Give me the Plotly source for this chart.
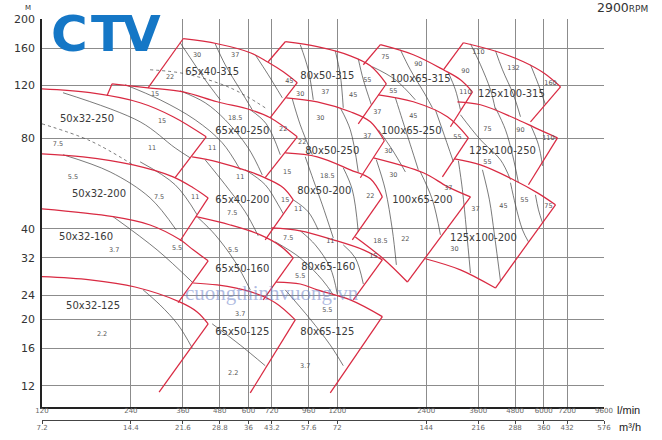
import plotly.graph_objects as go

# ---------------- axes ----------------
Q_TICKS = [120, 240, 360, 480, 600, 720, 960, 1200, 2400, 3600, 4800, 6000, 7200, 9600]
M3H_TICKS = [7.2, 14.4, 21.6, 28.8, 36, 43.2, 57.6, 72, 144, 216, 288, 360, 432, 576]
M3H_TEXT = ["7.2", "14.4", "21.6", "28.8", "36", "43.2", "57.6", "72", "144", "216", "288", "360", "432", "576"]
H_TICKS = [12, 16, 20, 24, 32, 40, 80, 120, 160, 200]

# ---------------- impeller curves (flow l/min, head m) ----------------
CURVE_Q = [
    [120, 174.6, 257.9, 333.6, 431.7],            # 50x32-250
    [120, 165.3, 244.2, 333.6, 390, 438.4],       # 50x32-200
    [120, 208.9, 278.8, 352.4, 390, 438.4],       # 50x32-160
    [120, 174.6, 248, 352.4, 402.3, 438.4],       # 50x32-125
    [360.7, 470.3, 608.7, 694.8, 787.3, 878.1],   # 65x40-315
    [207.3, 274.4, 360.7, 470.3, 608.7, 711.5, 878.1],  # 65x40-250
    [386.9, 470.3, 608.7, 694.8, 787.3, 851.2],   # 65x40-200
    [399.2, 520.7, 658, 769.2, 851.2],            # 65x50-160
    [390, 470.3, 608.7, 739.7, 864.5],            # 65x50-125
    [799.7, 1026, 1328, 1553, 1759],              # 80x50-315
    [806, 1026, 1328, 1553, 1732],                # 80x50-250
    [799.7, 1026, 1328, 1553, 1705],              # 80x50-200
    [717, 899, 1163, 1470, 1705],                 # 80x65-160
    [745.5, 899, 1026, 1328, 1705],               # 80x65-125
    [1679, 2171, 2744, 3134, 3442],               # 100x65-315
    [1653, 2171, 2831, 3335],                     # 100x65-250
    [1590, 2347, 2831, 3389],                     # 100x65-200
    [3208, 4182, 5124, 5989, 6840],               # 125x100-315
    [3061, 3664, 4739, 5715, 6680],               # 125x100-250
    [2991, 3664, 4739, 5715, 6577],               # 125x100-200
    [2384, 3134, 4118],                           # 125x100-200 min
    [1381, 1718, 2072],                           # 100x65-200 min
]
CURVE_H = [
    [117, 113.6, 105.2, 94.5, 81.0],
    [71.1, 69.5, 65.3, 59.6, 54.8, 50.7],
    [46.6, 43.9, 41.2, 36.76, 34.04, 31.3],
    [27.7, 27.04, 25.6, 22.8, 21.15, 19.3],
    [171.9, 165.4, 154.4, 144.1, 133.4, 122.7],
    [121.7, 118.0, 114.4, 106, 99.7, 93.8, 81.0],
    [69.5, 66.9, 61.9, 58.7, 54.8, 49.97],
    [43.9, 41.2, 38.2, 35.1, 32.0],
    [26.4, 26.0, 24.7, 22.7, 19.9],
    [168.0, 161.7, 150.8, 139.7, 121.7],
    [109.3, 106, 98.2, 90.9, 78.6],
    [71.6, 69.5, 62.9, 58.7, 51.1],
    [40.3, 39.4, 36.76, 34.04, 31.53],
    [26.6, 26.2, 25.04, 23.19, 20.4],
    [164.2, 152.0, 135.5, 125.5, 114.4],
    [111.8, 106, 94.5, 80.4],
    [68.95, 61.5, 55.3, 51.1],
    [166.7, 155.6, 144.1, 132.4, 118.9],
    [106, 103.6, 93.8, 86.1, 80.4],
    [68.4, 65.3, 58.3, 52.7, 48.1],
    [31.8, 29.2, 25.4],
    [37.6, 31.8, 26.6],
]

# straight red boundaries (start, end)
EDGE_Q = [
    [431.7, 338.8], [438.4, 352.4], [438.4, 346.8], [438.4, 299],
    [274.4, 360.7], [878.1, 711.5], [199.2, 207.3], [878.1, 684],
    [851.2, 684], [851.2, 673.5], [864.5, 608.7],
    [700.2, 799.7], [1759, 1413], [1732, 1436], [1705, 1349], [1705, 1359], [1705, 1136],
    [1470, 1679], [3442, 2899], [3335, 2723], [3389, 2072],
    [2744, 3208], [6840, 5412], [6680, 5327], [6577, 4118],
]
EDGE_H = [
    [81.0, 59.2], [50.7, 36.5], [31.3, 22.7], [19.3, 11.44],
    [118.0, 171.9], [122.7, 93.8], [111, 121.7], [81.0, 59.2],
    [49.97, 36.76], [32.0, 23.19], [19.9, 11.36],
    [144.1, 168.0], [121.7, 89.5], [78.6, 59.2], [51.1, 36.76], [31.53, 23.19], [20.4, 11.36],
    [140.8, 164.2], [114.4, 87.5], [80.4, 59.6], [51.1, 26.6],
    [135.5, 166.7], [118.9, 90.9], [80.4, 56.1], [48.1, 25.4],
]

# motor power limit lines (flow l/min, head m)
POWER_Q = [
    [264, 301.4, 346.8, 386.9],
    [208.9, 294.4, 390],
    [120, 174.6, 244.2],
    [141.4, 257.9, 338.8, 381],
    [141.4, 204.1, 278.8, 341.5],
    [257.9, 338.8, 402.3],
    [452.4, 563, 684],
    [799.7, 972, 1136, 1257],
    [278.8, 366.4, 520.7, 684],
    [352.4, 381, 428.3, 481.6],
    [463, 500.7, 563, 618.3],
    [632.8, 700.2, 781.3],
    [229.4, 301.4, 396.1, 489.2, 563],
    [352.4, 428.3, 500.7, 599.1, 668.3],
    [608.7, 689.5, 769.2],
    [428.3, 500.7, 585.3, 647.7],
    [585.3, 684, 757.1, 787.3],
    [405.4, 463, 541.3, 608.7],
    [739.7, 899, 1067.5, 1163],
    [899, 1010.5, 1136, 1199.5],
    [1257, 1380.6, 1470],
    [899, 956.6, 995],
    [1181, 1228, 1257],
    [1413, 1470, 1565],
    [844.7, 899, 987.3],
    [1228, 1328, 1413],
    [851.2, 956.6, 1034],
    [934.6, 995, 1067.5, 1163],
    [1257, 1349, 1413],
    [1577, 1887, 2205],
    [1962, 2121, 2384, 2519],
    [2853, 3014, 3134],
    [3389, 3664, 3961, 4118],
    [4118, 4350, 4739, 5006],
    [5412, 5759, 6083],
    [1887, 1993, 2121, 2257],
    [2578, 2723, 2967],
    [1653, 1843, 2040],
    [2293, 2519, 2681],
    [1627, 1745, 1843, 1902],
    [3134, 3664, 4283, 4630],
    [4118, 4453, 4703, 4927],
    [5412, 5759, 5943],
    [3085, 3183, 3284, 3389],
    [3721, 3929, 4086, 4283],
    [4630, 4813, 5085, 5327],
    [5626, 5759, 5943],
]
POWER_H = [
    [25.04, 22.3, 19.15, 16.05],
    [43.9, 34.04, 26.4],
    [89.5, 78.6, 65.3],
    [113.6, 90.9, 74.4, 68.95],
    [70.6, 61.9, 50.7, 39.69],
    [66.87, 56.1, 44.53],
    [19.3, 16.4, 14.0],
    [25.04, 20.0, 16.4, 14.0],
    [135.5, 131.4, 118.0, 101.2],
    [166.7, 148.6, 125.5, 107.6],
    [165.4, 140.8, 116.2, 99.7],
    [152.0, 130.4, 109.3],
    [120.8, 107.6, 92.3, 77.4, 62.9],
    [115.3, 105.2, 92.3, 74.4, 60.5],
    [99.7, 89.5, 70.6],
    [67.9, 56.1, 45.57, 37.9],
    [62.9, 56.1, 48.1, 44.9],
    [43.56, 38.2, 31.05, 25.04],
    [36.2, 32.0, 27.04, 24.1],
    [39.4, 35.37, 29.65, 24.28],
    [35.37, 32.0, 26.2],
    [164.2, 135.5, 107.6],
    [156.8, 130.4, 101.2],
    [147.4, 125.5, 103.6],
    [108.4, 88.8, 70.6],
    [101.2, 85.5, 61.9],
    [49.97, 45.57, 39.69],
    [69.5, 58.3, 48.1, 37.3],
    [63.86, 53.95, 39.09],
    [138.7, 125.5, 107.6],
    [158.0, 135.5, 111.8, 101.2],
    [132.4, 116.2, 99.7],
    [165.4, 140.8, 116.2, 99.7],
    [156.8, 135.5, 111.8, 94.5],
    [140.8, 120.8, 103.6],
    [109.3, 92.3, 76.2, 62.9],
    [99.7, 85.5, 66.9],
    [85.5, 73.3, 61.9],
    [61.9, 49.97, 38.2],
    [67.9, 53.95, 39.69, 30.34],
    [95.95, 79.2, 67.9, 58.3],
    [101.2, 85.5, 70.6, 56.97],
    [88.8, 76.2, 64.85],
    [67.4, 53.95, 39.69, 28.5],
    [62.9, 49.97, 38.2, 26.83],
    [56.97, 48.1, 39.69, 36.2],
    [51.9, 46.27, 41.88],
]
DOTTED_LINES = [2, 8]

MODEL_NAMES = ["50x32-250", "50x32-200", "50x32-160", "50x32-125",
               "65x40-315", "65x40-250", "65x40-200", "65x50-160", "65x50-125",
               "80x50-315", "80x50-250", "80x50-200", "80x65-160", "80x65-125",
               "100x65-315", "100x65-250", "100x65-200",
               "125x100-315", "125x100-250", "125x100-200"]
MODEL_Q = [170.5, 187.2, 169.2, 178.7, 452.4, 571.8, 571.8, 571.8, 571.8,
           1110, 1154, 1084, 1118, 1110, 2293, 2138, 2329, 4666, 4350, 3750]
MODEL_H = [92.3, 51.9, 37.3, 22.0, 132.4, 84.2, 49.6, 29.2, 18.0,
           128.4, 72.2, 53.1, 29.65, 18.0, 125.5, 84.2, 49.6, 111.8, 72.2, 37.0]

KW_TEXT = ["7.5", "15", "15", "11", "11", "18.5", "22", "22", "30", "37", "45",
           "5.5", "7.5", "11", "11", "7.5", "15", "3.7", "5.5", "5.5", "2.2", "3.7", "2.2",
           "7.5", "11", "15", "5.5", "5.5", "3.7", "18.5", "22", "30",
           "30", "37", "45", "55", "30", "37", "37", "22", "30", "30",
           "15", "18.5", "22", "11", "75", "90", "55", "45", "55",
           "110", "132", "90", "160", "110", "75", "90", "110", "55",
           "37", "37", "45", "55", "75"]
KW_Q = [135.9, 289.8, 306.1, 283.2, 452.4, 541.3, 787.3, 325.9, 402.3, 541.3, 825.2,
        152.8, 299, 396.1, 563, 528.9, 799.7, 210.6, 344.1, 533, 191.7, 563, 533,
        818.5, 1136, 1590, 899, 1110, 934.6, 1679, 2040, 2991,
        899, 1093, 1359, 1516, 1051, 1640, 1516, 913, 1787, 1858,
        812.2, 1110, 1553, 884.9, 1745, 2257, 1858, 2171, 3061,
        3606, 4739, 3258, 6326, 3258, 3869, 5006, 6226, 3869,
        2853, 3523, 4384, 5164, 6226]
KW_H = [76.2, 111.8, 90.9, 74.4, 74.4, 93.0, 85.5, 127.4, 150.8, 150.8, 123.6,
        59.2, 51.1, 51.1, 59.2, 44.9, 49.6, 33.8, 34.3, 33.8, 17.86, 20.8, 13.24,
        37.3, 36.2, 32.3, 27.7, 21.48, 13.97, 36.2, 36.76, 34.04,
        111.8, 113.6, 111, 124.5, 93.0, 97.4, 81.0, 77.4, 72.2, 60.5,
        61.5, 59.6, 51.5, 46.27, 148.6, 140.8, 114.4, 94.5, 80.4,
        154.4, 136.5, 133.4, 121.7, 113.6, 86.1, 84.9, 79.8, 66.4,
        54.4, 46.27, 47.7, 49.6, 47.7]

RED = "#d92a42"
fig = go.Figure()

for i, (q, h) in enumerate(zip(POWER_Q, POWER_H)):
    fig.add_trace(go.Scatter(x=q, y=h, mode="lines", line_shape="spline",
                             line=dict(color="#404040", width=0.7,
                                       dash="dot" if i in DOTTED_LINES else "solid"),
                             hoverinfo="skip", showlegend=False))
for q, h in zip(CURVE_Q, CURVE_H):
    fig.add_trace(go.Scatter(x=q, y=h, mode="lines", line_shape="spline",
                             line=dict(color=RED, width=1.25), hoverinfo="skip", showlegend=False))
for q, h in zip(EDGE_Q, EDGE_H):
    fig.add_trace(go.Scatter(x=q, y=h, mode="lines",
                             line=dict(color=RED, width=1.25), hoverinfo="skip", showlegend=False))

fig.add_trace(go.Scatter(x=MODEL_Q, y=MODEL_H, mode="text", text=MODEL_NAMES,
                         textfont=dict(family="DejaVu Sans", size=10, color="#3a3a3a"),
                         hoverinfo="skip", showlegend=False))
fig.add_trace(go.Scatter(x=KW_Q, y=KW_H, mode="text", text=KW_TEXT,
                         textfont=dict(family="DejaVu Sans", size=6.5, color="#555555"),
                         hoverinfo="skip", showlegend=False))
# carrier for the m3/h axis
fig.add_trace(go.Scatter(x=[M3H_TICKS[0]], y=[H_TICKS[0]], xaxis="x2", mode="markers",
                         marker=dict(opacity=0), hoverinfo="skip", showlegend=False))

fig.update_layout(
    width=662, height=440,
    margin=dict(l=42, r=58, t=19, b=10, autoexpand=False),
    paper_bgcolor="white", plot_bgcolor="white",
    xaxis=dict(type="log", range=[2.0792, 3.9823], tickvals=Q_TICKS, automargin=False,
               ticktext=[str(v) for v in Q_TICKS], showgrid=True, gridcolor="#8c8c8c",
               gridwidth=1.2, showline=True, linecolor="#222", linewidth=1.5, ticks="",
               ticklabelstandoff=-4,
               tickfont=dict(family="DejaVu Sans", size=7, color="#666"), zeroline=False),
    xaxis2=dict(type="log", range=[0.8573, 2.7604], overlaying="x", anchor="free",
                position=0.0243, side="bottom", tickvals=M3H_TICKS, ticktext=M3H_TEXT,
                showgrid=False, showline=True, linecolor="#444", linewidth=1, automargin=False,
                ticks="outside", ticklen=3, tickcolor="#444", ticklabelstandoff=-2,
                tickfont=dict(family="DejaVu Sans", size=7, color="#666")),
    yaxis=dict(type="log", range=[1.0086, 2.30103], domain=[0.056, 1], tickvals=H_TICKS,
               ticktext=[str(v) for v in H_TICKS], showgrid=True, gridcolor="#8c8c8c",
               gridwidth=1.2, showline=True, linecolor="#222", linewidth=1.5, ticks="",
               automargin=False, ticklabelstandoff=3,
               tickfont=dict(family="DejaVu Sans", size=11, color="#333"), zeroline=False),
)


def px_ann(text, px, py, size, color, family="DejaVu Sans", xanchor="center"):
    fig.add_annotation(text=text, xref="paper", yref="paper", x=(px - 42) / 562,
                       y=(430 - py) / 411, xanchor=xanchor, yanchor="middle", showarrow=False,
                       font=dict(family=family, size=size, color=color))


for letter, cx in (("C", 69), ("T", 108), ("V", 141)):
    px_ann("<b>%s</b>" % letter, cx, 34, 50, "#1577c6")
px_ann("cuongthinhvuong.vn", 272, 293, 21, "rgba(110,130,200,0.55)", family="Liberation Serif")
px_ann("M", 28, 8, 7, "#333")
px_ann("2900<span style='font-size:9px'>RPM</span>", 622, 7, 12.5, "#333")
px_ann("l/min", 628, 410, 11, "#222", family="Liberation Sans Narrow, Liberation Sans")
px_ann("m³/h", 630, 427, 11, "#222", family="Liberation Sans Narrow, Liberation Sans")

fig.write_html("out.html", config={"displayModeBar": False},
               post_script="document.body.style.margin='0px';")
